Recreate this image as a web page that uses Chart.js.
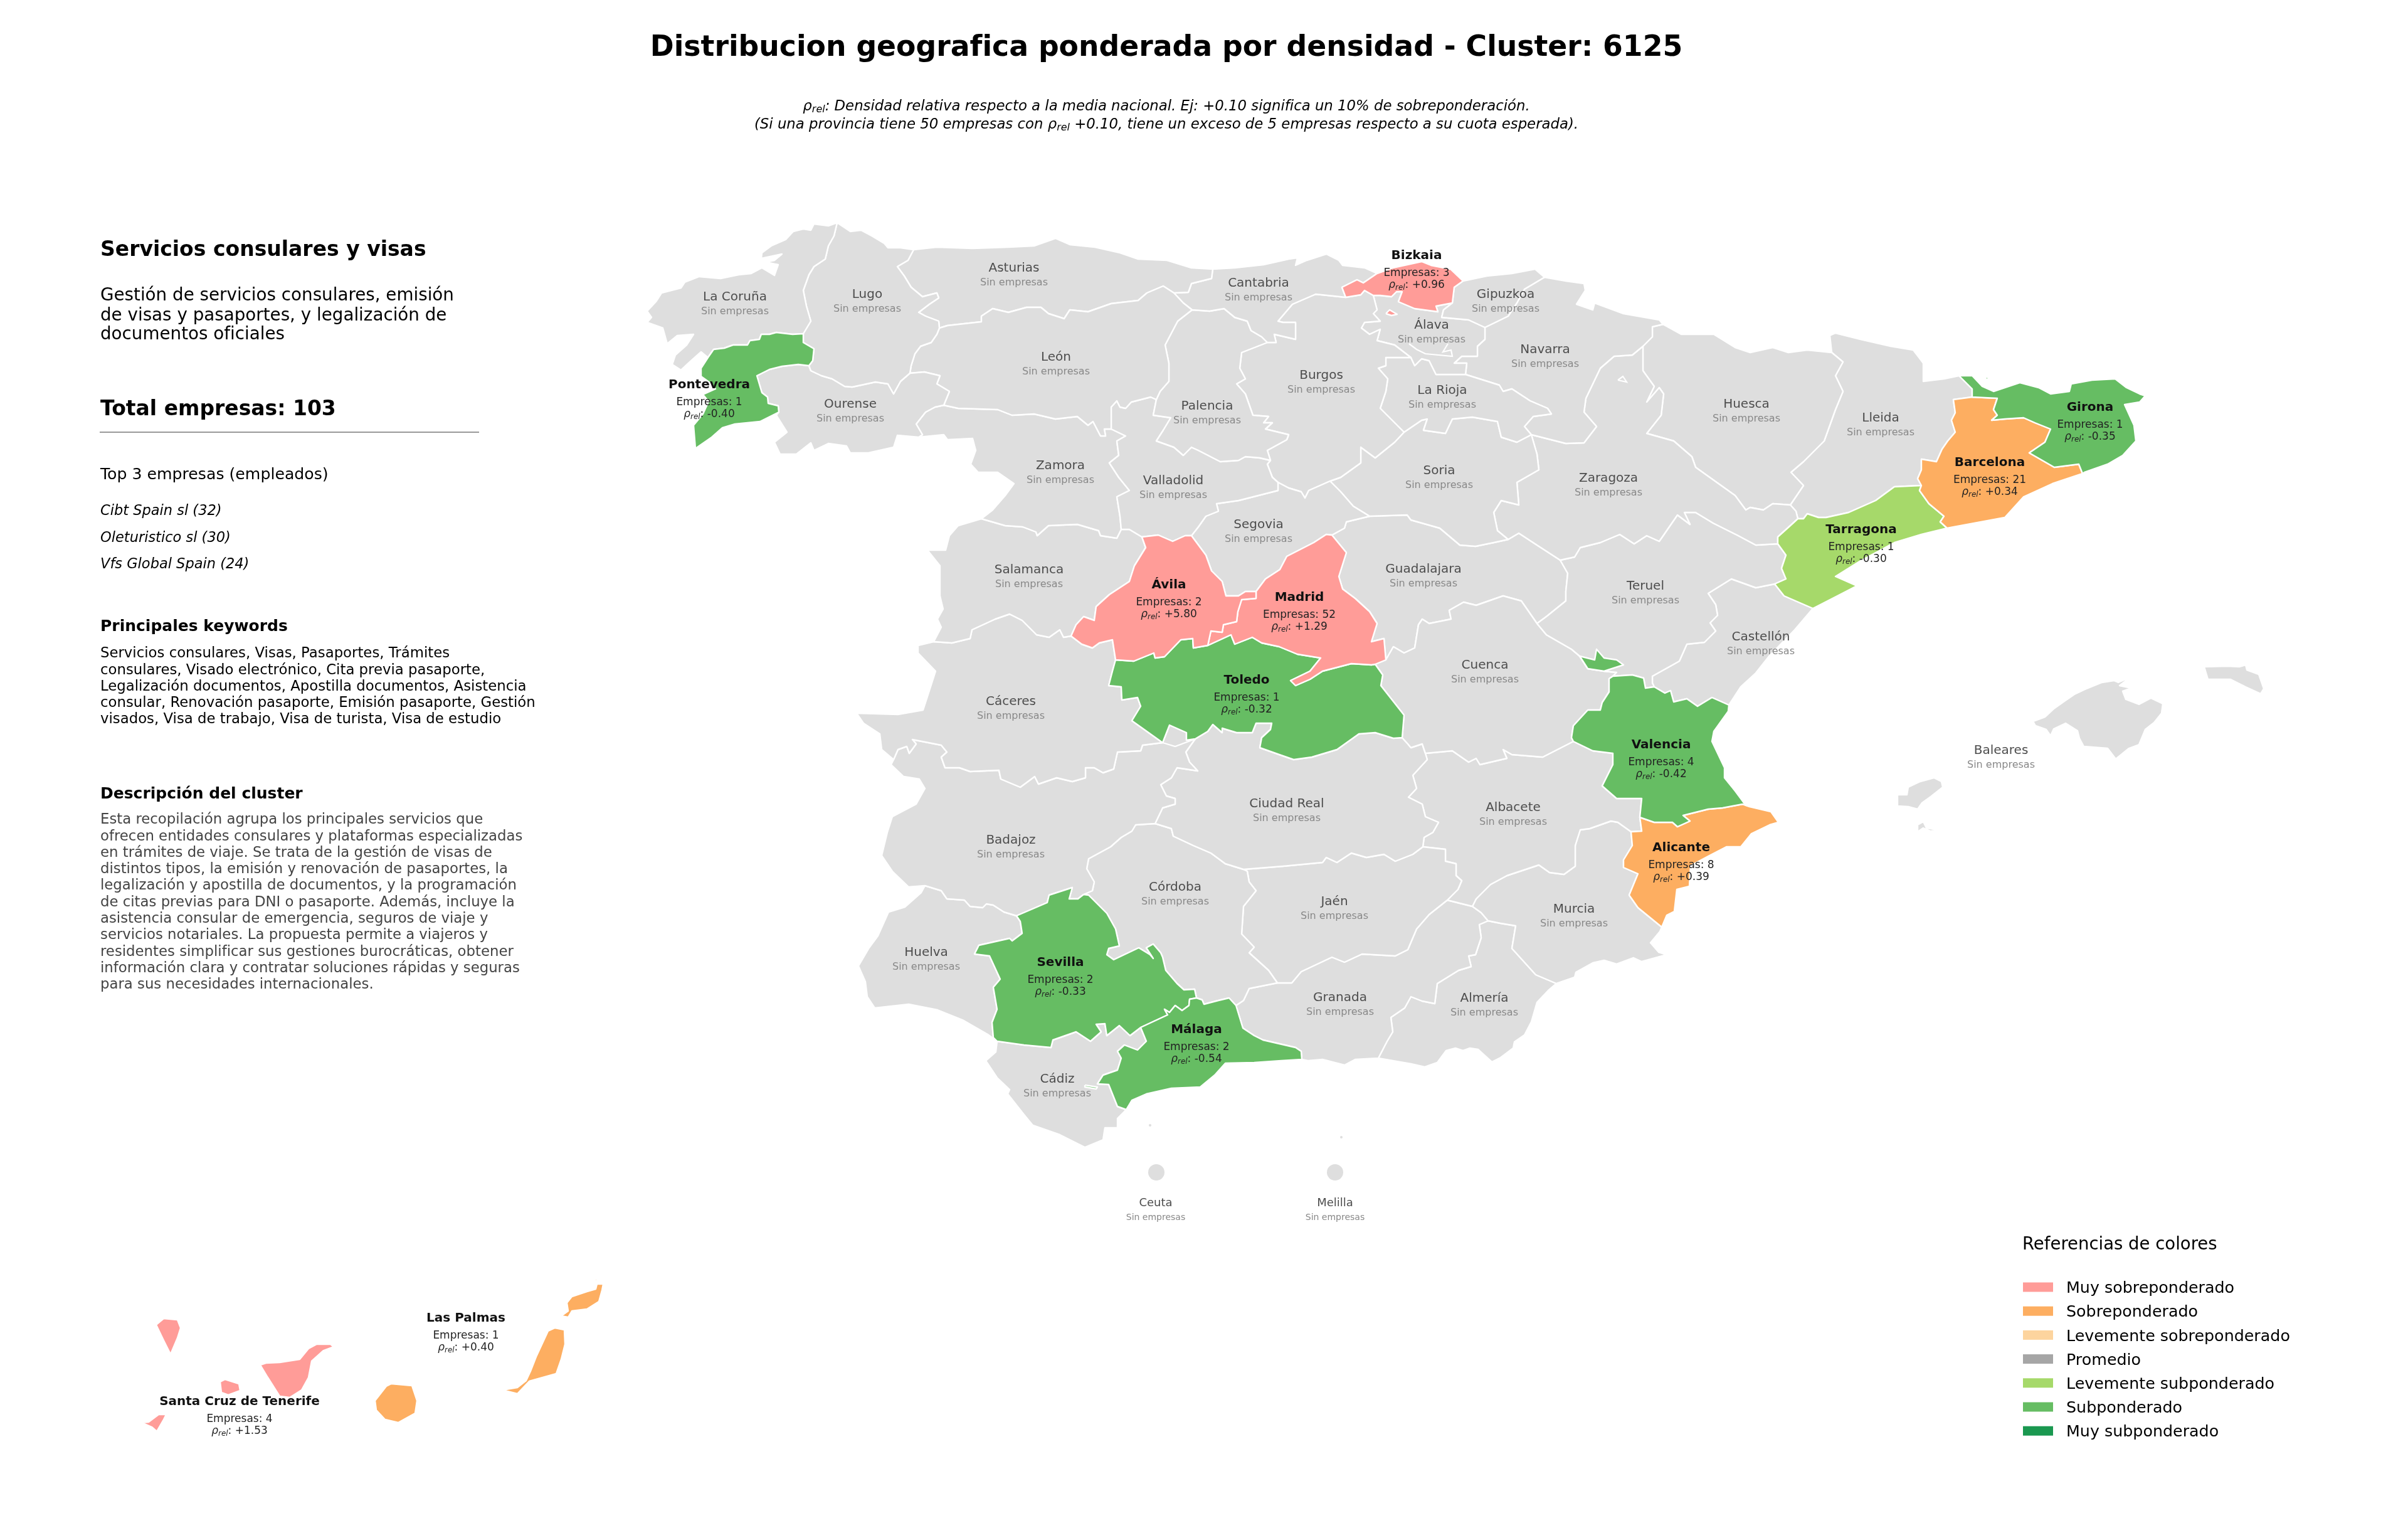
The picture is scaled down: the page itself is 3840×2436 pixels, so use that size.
<!DOCTYPE html>
<html lang="es">
<head>
<meta charset="utf-8">
<title>Distribucion geografica - Cluster 6125</title>
<script src="https://cdn.jsdelivr.net/npm/chart.js@4/dist/chart.umd.min.js"></script>
<style>
  html, body { margin: 0; padding: 0; background: #fff; }
  #wrap { width: 3840px; height: 2436px; position: relative; }
</style>
</head>
<body>
<div id="wrap"><canvas id="chart"></canvas></div>
<script>
// ==== Bordes entre provincias (unidades del mapa) ====
const corCoast = [[1335,355],[1321,360],[1298,357],[1293,367],[1281,365],[1265,369],[1253,382],[1230,392],[1215,403],[1214,412],[1247,405],[1235,415],[1221,418],[1241,422],[1235,439],[1215,427],[1198,436],[1178,438],[1149,444],[1115,441],[1092,450],[1086,459],[1055,467],[1046,481],[1032,496],[1039,506],[1032,514],[1057,523],[1064,548],[1080,535],[1106,533],[1095,550],[1077,566],[1072,581],[1086,590],[1100,577],[1118,561],[1129,570]];
const corPon = [[1129,570],[1138,557],[1155,555],[1169,550],[1192,550],[1196,543],[1211,541],[1214,533],[1227,533],[1238,530],[1264,533],[1281,532]];
const lugCor = [[1281,532],[1293,512],[1286,488],[1281,463],[1290,438],[1298,425],[1316,413],[1321,392],[1330,376],[1335,355]];
const lugCoast = [[1335,355],[1344,361],[1356,369],[1373,367],[1390,376],[1410,388],[1416,395],[1436,395],[1457,398]];
const lugAst = [[1457,398],[1448,415],[1431,425],[1442,440],[1453,458],[1471,473],[1494,467],[1497,475],[1482,485],[1465,498],[1476,504],[1497,512],[1498,523]];
const lugLeon = [[1498,523],[1494,533],[1485,546],[1468,552],[1459,564],[1453,583],[1451,595]];
const ourLug = [[1451,595],[1436,608],[1425,628],[1416,612],[1396,609],[1373,614],[1359,617],[1347,616],[1327,604],[1310,599],[1293,591],[1290,583]];
const lugPon = [[1290,583],[1296,575],[1298,556],[1281,546],[1281,532]];
const ourPon = [[1290,583],[1273,581],[1247,584],[1227,589],[1207,599],[1212,616],[1215,626],[1224,633],[1225,643],[1241,647],[1242,657]];
const ponCoast = [[1242,657],[1212,672],[1172,676],[1152,682],[1135,697],[1109,715],[1106,678],[1121,660],[1130,640],[1121,629],[1141,620],[1132,610],[1118,600],[1118,587],[1129,570]];
const ourPort = [[1242,657],[1238,662],[1255,689],[1235,705],[1244,724],[1270,724],[1293,706],[1298,718],[1321,707],[1350,711],[1356,722],[1385,722],[1425,713],[1431,694],[1465,697]];
const ourZam = [[1465,697],[1471,693],[1461,676],[1476,657],[1491,649],[1505,646]];
const ourLeon = [[1505,646],[1514,624],[1494,612],[1499,599],[1474,593],[1451,595]];
const leonAst = [[1498,523],[1511,519],[1565,513],[1565,504],[1583,492],[1608,498],[1637,490],[1660,490],[1672,500],[1697,508],[1706,494],[1735,497],[1772,484],[1815,479],[1829,467],[1855,456],[1872,467]];
const cantLeon = [[1872,467],[1887,483],[1901,494]];
const leonPal = [[1901,494],[1878,512],[1858,550],[1864,579],[1864,608],[1850,624],[1844,637]];
const leonVal = [[1844,637],[1835,633],[1804,641],[1795,651],[1786,649],[1781,639],[1772,649],[1772,684]];
const leonZam = [[1505,646],[1528,651],[1591,653],[1614,662],[1649,660],[1683,668],[1718,664],[1735,678],[1743,672],[1755,695],[1763,695],[1761,684],[1772,684]];
const astCoast = [[1457,398],[1494,394],[1551,396],[1608,394],[1649,392],[1683,380],[1706,390],[1746,394],[1786,403],[1815,413],[1861,415],[1900,427],[1934,429]];
const astCant = [[1872,467],[1895,466],[1900,452],[1932,444],[1934,429]];
const cantCoast = [[1934,429],[1969,427],[2015,422],[2055,413],[2069,411],[2066,423],[2084,415],[2115,405],[2135,415],[2141,423],[2176,427],[2196,436]];
const bizCant = [[2146,474],[2140,458],[2164,446],[2174,451],[2196,436]];
const cantBur = [[2021,546],[2035,546],[2032,533],[2066,541],[2066,514],[2046,514],[2038,512],[2061,485],[2098,469],[2146,474]];
const cantPal = [[1901,494],[1929,496],[1952,492],[1969,506],[1989,512],[1995,527],[2012,537],[2021,546]];
const palBur = [[2021,546],[1980,562],[1977,587],[1986,604],[1972,612],[1986,628],[1998,662],[2023,664],[2015,674],[2029,674],[2018,684],[2055,693],[2052,701],[2021,718],[2026,734]];
const palVal = [[1844,637],[1839,662],[1867,666],[1855,686],[1844,703],[1872,713],[1887,726],[1900,713],[1911,718],[1946,736],[1975,734],[1986,728],[2009,730],[2026,734]];
const valBur = [[2026,734],[2021,740],[2029,761],[2038,769]];
const valSeg = [[2038,769],[2038,782],[1975,798],[1940,803],[1943,815],[1923,823],[1911,840],[1900,854]];
const valAv = [[1900,854],[1890,854],[1870,863],[1847,853],[1821,856]];
const salVal = [[1788,844],[1801,844],[1821,856]];
const zamVal = [[1772,684],[1795,695],[1781,703],[1784,726],[1769,738],[1784,761],[1801,782],[1781,792],[1786,823],[1788,844]];
const zamPort = [[1465,697],[1505,693],[1511,701],[1551,699],[1556,718],[1548,740],[1560,753],[1591,753],[1617,771],[1603,790],[1583,813],[1565,827]];
const zamSal = [[1565,827],[1603,838],[1631,840],[1652,848],[1654,854],[1672,838],[1718,836],[1752,846],[1755,854],[1781,858],[1788,844]];
const salPort = [[1565,827],[1528,838],[1514,854],[1508,877],[1479,877],[1499,902],[1499,950],[1504,971],[1495,987],[1501,1000],[1489,1023]];
const salCac = [[1489,1023],[1518,1025],[1547,1018],[1550,1004],[1587,987],[1610,979],[1630,989],[1653,1012],[1673,1016],[1690,1004],[1696,1016],[1708,1014]];
const salAv = [[1708,1014],[1716,996],[1728,983],[1745,989],[1748,967],[1769,948],[1801,927],[1809,902],[1827,873],[1821,856]];
const avSeg = [[1900,854],[1923,885],[1932,910],[1949,927],[1955,950],[1975,950],[1986,943],[2003,943]];
const avMad = [[2003,943],[2003,954],[1980,956],[1974,975],[1972,991],[1951,996],[1949,1008],[1931,1006],[1926,1029]];
const avTol = [[1926,1029],[1903,1033],[1902,1018],[1883,1020],[1857,1047],[1842,1049],[1840,1041],[1808,1054],[1779,1052]];
const avCac = [[1779,1052],[1774,1020],[1753,1025],[1742,1033],[1725,1027],[1708,1014]];
const burSeg = [[2038,769],[2055,778],[2075,784],[2081,794],[2087,782],[2121,767]];
const segSor = [[2121,767],[2138,784],[2158,807],[2184,823]];
const segGua = [[2184,823],[2147,832],[2144,842],[2124,853]];
const segMad = [[2124,853],[2115,852],[2095,865],[2052,887],[2041,908],[2018,923],[2003,943]];
const burSor = [[2121,767],[2138,761],[2170,738],[2170,713],[2193,730],[2224,705],[2239,689]];
const burRio = [[2250,570],[2210,570],[2210,583],[2198,587],[2213,604],[2210,624],[2201,651],[2216,666],[2239,689]];
const burAla = [[2190,471],[2196,494],[2190,500],[2201,512],[2176,514],[2171,523],[2184,533],[2201,525],[2196,543],[2224,550],[2250,570]];
const bizBur = [[2190,471],[2176,463],[2170,470],[2146,474]];
const bizCoast = [[2196,436],[2221,427],[2267,417],[2282,423],[2313,429],[2333,448]];
const bizGip = [[2333,448],[2319,458],[2316,483]];
const bizAla = [[2316,483],[2290,488],[2293,497],[2256,492],[2230,481],[2236,465],[2227,465],[2219,473],[2201,471],[2190,471]];
const gipCoast = [[2333,448],[2371,440],[2411,436],[2448,429],[2463,442]];
const navGip = [[2368,522],[2405,504],[2419,483],[2431,461],[2463,442]];
const gipAla = [[2368,522],[2342,510],[2299,506],[2302,494],[2316,483]];
const navAla = [[2337,597],[2339,579],[2319,579],[2331,568],[2356,568],[2356,552],[2368,541],[2368,522]];
const rioAla = [[2337,597],[2290,597],[2279,575],[2267,572],[2256,583],[2250,570]];
const rioSor = [[2239,689],[2267,670],[2276,668],[2270,686],[2305,691],[2316,668],[2348,665],[2388,672],[2394,697],[2419,705],[2442,693]];
const rioNav = [[2442,693],[2431,680],[2445,664],[2474,660],[2468,651],[2440,639],[2411,620],[2397,624],[2391,614],[2337,597]];
const navZar = [[2442,693],[2497,707],[2526,706],[2546,680],[2526,657],[2529,635],[2552,587],[2574,568],[2603,566],[2620,552]];
const navHue = [[2652,517],[2635,521],[2635,537],[2620,552]];
const navNorth = [[2463,442],[2497,448],[2526,452],[2528,463],[2514,485],[2540,494],[2543,483],[2589,500],[2646,510],[2652,517]];
const sorZar = [[2442,693],[2451,724],[2454,749],[2419,769],[2422,805],[2394,798],[2382,817],[2388,846],[2405,860]];
const sorGua = [[2184,823],[2244,821],[2250,829],[2296,842],[2328,869],[2353,871],[2382,865],[2405,860]];
const zarGua = [[2405,860],[2422,850],[2451,869],[2488,893]];
const zarTer = [[2488,893],[2511,888],[2520,873],[2552,865],[2583,852],[2606,867],[2626,854],[2646,863],[2675,821],[2695,836],[2686,817],[2704,817],[2732,834],[2772,854],[2800,869],[2835,867]];
const zarTar = [[2867,827],[2855,838],[2835,856],[2835,867]];
const zarLle = [[2855,805],[2864,815],[2867,827]];
const zarHue = [[2620,552],[2620,591],[2638,616],[2626,641],[2646,618],[2653,628],[2649,662],[2626,691],[2669,703],[2698,728],[2704,745],[2767,790],[2784,813],[2791,809],[2812,813],[2827,803],[2855,805]];
const hueNorth = [[2652,517],[2681,533],[2733,533],[2767,554],[2791,562],[2827,554],[2852,562],[2882,558],[2921,562]];
const hueLle = [[2921,562],[2939,577],[2927,599],[2939,624],[2927,653],[2909,703],[2876,736],[2856,753],[2876,774],[2855,805]];
const lleNorth = [[2921,562],[2918,535],[2927,531],[2967,541],[3015,552],[3051,558],[3067,579],[3067,608],[3100,604],[3124,599]];
const lleGir = [[3124,599],[3145,620],[3145,633]];
const lleBar = [[3145,633],[3115,637],[3118,658],[3112,670],[3118,689],[3106,703],[3097,716],[3088,736],[3064,732],[3064,749],[3058,763],[3064,774]];
const lleTar = [[2867,827],[2876,827],[2882,819],[2900,825],[2912,825],[2948,817],[2991,798],[3021,776],[3064,774]];
const girOuter = [[3124,599],[3145,599],[3161,616],[3179,624],[3197,618],[3221,610],[3251,618],[3270,628],[3300,624],[3303,612],[3336,606],[3373,604],[3391,618],[3412,628],[3421,631],[3412,641],[3388,645],[3403,678],[3406,703],[3385,726],[3361,740],[3324,753],[3321,755]];
const barGir = [[3145,633],[3185,635],[3179,653],[3185,662],[3176,670],[3197,668],[3227,666],[3245,674],[3270,684],[3261,705],[3236,722],[3276,745],[3315,740],[3321,755]];
const barCoast = [[3321,755],[3273,771],[3227,792],[3197,825],[3105,842]];
const barTar = [[3064,774],[3061,782],[3076,803],[3100,823],[3094,832],[3105,842]];
const tarCoast = [[3105,842],[3064,852],[3021,865],[2967,894],[2927,919],[2961,934],[2930,950],[2891,970]];
const tarCas = [[2830,931],[2845,950],[2891,970]];
const tarTer = [[2835,867],[2848,885],[2841,906],[2848,923],[2830,931]];
const terCas = [[2830,931],[2800,937],[2761,923],[2724,946],[2736,964],[2739,981],[2727,993],[2736,1006],[2718,1024],[2690,1027],[2678,1054],[2635,1078],[2635,1089],[2638,1095]];
const terVal = [[2638,1095],[2624,1097],[2621,1081],[2603,1076],[2572,1078]];
const terCue = [[2451,994],[2466,1012],[2506,1035],[2519,1046],[2532,1066],[2558,1070],[2578,1072],[2572,1078]];
const guaTer = [[2451,994],[2466,983],[2497,958],[2497,943],[2500,914],[2488,893]];
const casCoast = [[2891,970],[2862,1004],[2822,1045],[2799,1074],[2776,1095],[2757,1124]];
const valCas = [[2638,1095],[2655,1105],[2664,1101],[2669,1119],[2690,1114],[2707,1126],[2730,1112],[2757,1124]];
const valCoast = [[2757,1124],[2756,1134],[2733,1166],[2730,1182],[2750,1224],[2750,1240],[2767,1261],[2784,1284]];
const valAli = [[2784,1284],[2779,1282],[2747,1288],[2724,1290],[2684,1300],[2695,1309],[2675,1318],[2667,1311],[2638,1311],[2615,1303]];
const valAlb = [[2615,1303],[2618,1273],[2578,1273],[2555,1253],[2572,1219],[2572,1201],[2540,1197],[2509,1182]];
const valCue = [[2509,1182],[2506,1176],[2509,1157],[2532,1132],[2552,1132],[2555,1120],[2566,1103],[2566,1082],[2572,1078]];
const aliCoast = [[2784,1284],[2790,1286],[2824,1294],[2836,1311],[2822,1315],[2793,1329],[2776,1350],[2753,1350],[2724,1365],[2696,1380],[2694,1413],[2674,1418],[2670,1453],[2658,1459],[2650,1478]];
const murAli = [[2601,1326],[2603,1348],[2589,1371],[2589,1383],[2612,1393],[2598,1427],[2612,1447],[2650,1478]];
const albAli = [[2601,1326],[2618,1325],[2615,1303]];
const albCue = [[2509,1182],[2460,1207],[2411,1203],[2397,1195],[2403,1209],[2360,1219],[2354,1209],[2342,1215],[2316,1197],[2273,1201]];
const cueCR = [[2236,1176],[2245,1186],[2250,1192],[2268,1186],[2273,1201]];
const cueTol = [[2193,1059],[2205,1076],[2202,1093],[2239,1140],[2236,1176]];
const madCue = [[2210,1052],[2193,1059]];
const guaCue = [[2210,1052],[2222,1031],[2239,1041],[2256,1033],[2262,996],[2268,987],[2279,994],[2314,987],[2311,973],[2334,960],[2354,965],[2397,950],[2426,958],[2451,994]];
const madGua = [[2124,853],[2147,881],[2135,919],[2141,939],[2153,948],[2161,954],[2184,975],[2196,994],[2187,1023],[2207,1018],[2210,1052]];
const madTol = [[1926,1029],[1963,1012],[1969,1027],[1997,1016],[2012,1025],[2040,1031],[2069,1043],[2106,1049],[2089,1070],[2058,1085],[2066,1093],[2089,1083],[2109,1070],[2155,1058],[2187,1060],[2193,1059]];
const tolCR = [[2236,1176],[2222,1177],[2193,1168],[2167,1170],[2132,1195],[2092,1207],[2063,1211],[2040,1203],[2009,1192],[2012,1176],[2026,1163],[2028,1153],[2003,1153],[1997,1168],[1972,1168],[1949,1161],[1949,1168],[1934,1155],[1926,1166],[1906,1178]];
const badTol = [[1854,1184],[1865,1156],[1892,1168],[1892,1180],[1906,1178]];
const cacTol = [[1779,1052],[1774,1070],[1768,1093],[1788,1095],[1789,1116],[1814,1112],[1819,1126],[1805,1149],[1854,1184]];
const cacBad = [[1854,1184],[1822,1188],[1819,1197],[1782,1199],[1776,1226],[1759,1232],[1745,1224],[1731,1224],[1731,1240],[1710,1246],[1685,1240],[1656,1250],[1650,1238],[1627,1255],[1596,1242],[1593,1228],[1547,1230],[1530,1224],[1507,1224],[1501,1207],[1510,1199],[1501,1188],[1455,1179],[1461,1186],[1450,1201],[1446,1190],[1432,1195],[1425,1211]];
const cacPort = [[1489,1023],[1464,1029],[1464,1041],[1492,1070],[1484,1095],[1472,1132],[1432,1139],[1366,1137],[1377,1153],[1403,1170],[1406,1195],[1425,1211]];
const badCR = [[1906,1178],[1891,1199],[1897,1215],[1910,1229],[1877,1224],[1868,1240],[1851,1251],[1860,1269],[1874,1273],[1874,1282],[1854,1288],[1842,1313]];
const badCor = [[1842,1313],[1811,1315],[1805,1325],[1788,1335],[1771,1350],[1736,1369],[1733,1385],[1745,1406],[1742,1420],[1728,1426]];
const badSev = [[1621,1460],[1670,1439],[1673,1427],[1710,1415],[1705,1433],[1719,1433],[1728,1426]];
const badHue = [[1475,1412],[1501,1420],[1510,1433],[1538,1435],[1547,1445],[1567,1447],[1573,1441],[1584,1443],[1601,1454],[1621,1460]];
const badPort = [[1425,1211],[1421,1219],[1441,1238],[1466,1242],[1475,1257],[1461,1282],[1423,1302],[1415,1327],[1406,1364],[1423,1389],[1449,1414],[1475,1412]];
const crAlb = [[2273,1201],[2276,1211],[2253,1236],[2259,1257],[2246,1271],[2268,1282],[2273,1302],[2294,1311],[2285,1327],[2271,1335],[2269,1350]];
const crJae = [[1983,1386],[2046,1381],[2109,1375],[2115,1367],[2132,1375],[2155,1360],[2179,1367],[2207,1362],[2225,1373],[2253,1362],[2269,1350]];
const corCR = [[1842,1313],[1868,1321],[1871,1333],[1903,1348],[1931,1360],[1954,1377],[1983,1386]];
const corJae = [[1983,1386],[1989,1389],[1992,1406],[2003,1420],[1983,1445],[1980,1489],[2000,1510],[1992,1519],[2023,1547],[2037,1567]];
const corGra = [[1971,1603],[1983,1595],[1992,1576],[2037,1567]];
const corMal = [[1971,1603],[1960,1591],[1943,1595],[1920,1601],[1917,1594],[1908,1591]];
const sevCor = [[1728,1426],[1736,1427],[1765,1456],[1779,1481],[1785,1508],[1768,1512],[1765,1522],[1776,1530],[1816,1511],[1834,1522],[1839,1528],[1828,1511],[1839,1505],[1851,1519],[1854,1526],[1859,1547],[1877,1568],[1888,1578],[1905,1577],[1908,1591]];
const jaeGra = [[2037,1567],[2060,1567],[2075,1549],[2124,1526],[2144,1534],[2172,1521],[2225,1524],[2245,1514],[2259,1481],[2279,1458],[2308,1435]];
const albJae = [[2269,1350],[2305,1354],[2305,1373],[2322,1377],[2322,1396],[2331,1404],[2325,1418],[2308,1435]];
const albGra = [[2308,1435],[2348,1445]];
const albMur = [[2348,1445],[2354,1433],[2377,1410],[2403,1396],[2454,1379],[2471,1391],[2494,1394],[2512,1381],[2512,1348],[2520,1323],[2535,1321],[2569,1309],[2580,1311],[2601,1326]];
const murCoast = [[2650,1478],[2647,1485],[2632,1503],[2645,1518],[2658,1522],[2618,1533],[2605,1527],[2578,1537],[2558,1531],[2540,1535],[2513,1550],[2511,1558],[2482,1568]];
const murAlm = [[2482,1568],[2449,1554],[2411,1512],[2417,1476],[2393,1472],[2373,1468]];
const murGra = [[2373,1468],[2362,1455],[2348,1445]];
const graAlm = [[2373,1468],[2359,1474],[2362,1495],[2353,1522],[2342,1524],[2346,1541],[2326,1547],[2292,1568],[2288,1600],[2268,1596],[2250,1589],[2240,1607],[2218,1622],[2221,1645],[2212,1660],[2198,1687]];
const graCoast = [[2076,1689],[2086,1691],[2109,1689],[2144,1698],[2161,1689],[2198,1687]];
const malGra = [[2076,1689],[2075,1676],[2066,1670],[2014,1658],[2000,1651],[1982,1639],[1971,1603]];
const almCoast = [[2482,1568],[2469,1579],[2451,1598],[2442,1629],[2431,1650],[2415,1661],[2413,1671],[2393,1686],[2379,1693],[2357,1673],[2344,1671],[2333,1675],[2321,1671],[2306,1675],[2292,1694],[2272,1701],[2250,1696],[2198,1687]];
const malSev = [[1908,1591],[1897,1593],[1896,1603],[1885,1611],[1874,1603],[1865,1614],[1857,1609],[1862,1618],[1819,1638]];
const malCad = [[1819,1638],[1828,1660],[1814,1674],[1793,1666],[1782,1676],[1788,1687],[1782,1706],[1759,1714],[1750,1728],[1768,1729],[1782,1764],[1796,1769]];
const malCoast = [[1796,1769],[1805,1754],[1828,1744],[1868,1735],[1914,1733],[1937,1714],[1954,1695],[2000,1694],[2043,1691],[2076,1689]];
const sevCad = [[1819,1638],[1802,1651],[1785,1635],[1765,1651],[1762,1632],[1748,1633],[1756,1645],[1739,1660],[1716,1645],[1679,1658],[1676,1670],[1633,1666],[1590,1660]];
const sevHue = [[1590,1660],[1584,1654],[1582,1630],[1590,1609],[1584,1574],[1595,1561],[1578,1524],[1554,1521],[1561,1507],[1610,1496],[1614,1500],[1630,1488],[1627,1469],[1621,1460]];
const hueCoast = [[1590,1660],[1575,1649],[1535,1626],[1495,1610],[1449,1601],[1395,1607],[1383,1589],[1380,1565],[1369,1540],[1386,1511],[1400,1492],[1417,1454],[1443,1446],[1469,1423],[1475,1412]];
const cadCoast = [[1590,1660],[1588,1677],[1572,1691],[1590,1718],[1610,1737],[1607,1744],[1633,1777],[1647,1794],[1690,1809],[1730,1829],[1759,1817],[1762,1798],[1782,1798],[1782,1783],[1796,1769]];

// ==== Partes sueltas e islas ====
const mallorca = [[3242,1150],[3261,1143],[3275,1130],[3292,1118],[3308,1107],[3325,1099],[3352,1088],[3371,1085],[3378,1088],[3397,1080],[3380,1093],[3399,1097],[3385,1102],[3390,1115],[3411,1123],[3430,1113],[3449,1122],[3447,1137],[3435,1152],[3421,1163],[3411,1187],[3395,1193],[3374,1210],[3361,1193],[3323,1190],[3316,1177],[3313,1165],[3294,1153],[3275,1162],[3270,1173],[3263,1163],[3246,1157]];
const menorca = [[3515,1063],[3552,1062],[3571,1063],[3581,1060],[3583,1068],[3602,1075],[3610,1098],[3605,1106],[3581,1095],[3557,1083],[3521,1083]];
const ibiza = [[3026,1267],[3041,1267],[3043,1255],[3062,1246],[3084,1240],[3096,1246],[3098,1255],[3079,1270],[3065,1280],[3058,1290],[3043,1286],[3026,1285]];
const formentera = [[3058,1315],[3067,1310],[3072,1320],[3091,1323],[3079,1325],[3067,1320],[3058,1326]];
const laPalma = [[249,2112],[261,2102],[283,2104],[288,2117],[283,2133],[272,2159],[261,2137]];
const gomera = [[351,2203],[359,2199],[381,2206],[383,2217],[364,2224],[353,2220]];
const tenerife = [[415,2176],[424,2173],[446,2172],[478,2167],[492,2150],[505,2143],[527,2143],[532,2147],[516,2153],[497,2170],[492,2196],[481,2216],[462,2228],[446,2226],[427,2196]];
const hierro = [[226,2268],[237,2267],[253,2255],[265,2255],[261,2263],[250,2282],[242,2275]];
const granCanaria = [[598,2233],[616,2210],[624,2206],[657,2209],[665,2233],[662,2253],[635,2268],[614,2263],[600,2248]];
const fuerteventura = [[801,2216],[825,2212],[839,2201],[846,2186],[855,2163],[874,2122],[885,2117],[900,2120],[901,2143],[895,2167],[887,2190],[844,2202],[825,2222]];
const lanzarote = [[895,2098],[906,2090],[904,2077],[912,2067],[936,2059],[950,2055],[952,2047],[962,2047],[960,2057],[955,2075],[936,2087],[912,2090],[906,2100]];
const graciosa = [[949,2042],[950,2036],[953,2042]];
const ademuz = [[2519,1046],[2543,1052],[2546,1035],[2558,1049],[2578,1052],[2589,1060],[2558,1070],[2532,1066],[2523,1052]];
const orduna = [[2210,500],[2216,494],[2228,501],[2219,503]];
const llivia = [[3168,599],[3171,604],[3166,605]];
const caboMalaga = [[1730,1730],[1750,1733],[1748,1736],[1730,1733]];
const trevino = [[2247,548],[2259,557],[2273,564],[2316,568],[2314,558],[2301,561],[2309,548]];
const bolsaBadajoz = [[1854,1184],[1874,1190],[1906,1178]];
const enclaveZaragoza = [[2580,606],[2588,600],[2594,609],[2580,606]];
const ciudades = [{x:1844,y:1869},{x:2129,y:1869}];
const islotes = [{x:1834,y:1794},{x:2139,y:1813}];

// ==== Composicion de provincias ====
const rev = arc => arc.slice().reverse();
const ring = (...arcs) => arcs.flat();

const provinceNames = ['La Coruña','Lugo','Pontevedra','Ourense','León','Asturias','Cantabria','Palencia','Valladolid','Zamora','Salamanca','Ávila','Segovia','Burgos','Bizkaia','Gipuzkoa','Álava','La Rioja','Navarra','Soria','Zaragoza','Huesca','Lleida','Girona','Barcelona','Tarragona','Teruel','Castellón','Valencia','Alicante','Cuenca','Guadalajara','Madrid','Toledo','Cáceres','Badajoz','Ciudad Real','Córdoba','Jaén','Albacete','Murcia','Granada','Almería','Málaga','Sevilla','Huelva','Cádiz'];
const provinceRings = [
  ring(corCoast,corPon,lugCor),
  ring(lugCoast,lugAst,lugLeon,ourLug,lugPon,lugCor),
  ring(ourPon,ponCoast,corPon,rev(lugPon)),
  ring(ourPort,ourZam,ourLeon,ourLug,ourPon),
  ring(leonAst,cantLeon,leonPal,leonVal,rev(leonZam),ourLeon,rev(lugLeon)),
  ring(astCoast,rev(astCant),rev(leonAst),rev(lugAst)),
  ring(cantCoast,rev(bizCant),rev(cantBur),rev(cantPal),rev(cantLeon),astCant),
  ring(cantPal,palBur,rev(palVal),rev(leonPal)),
  ring(leonVal,zamVal,salVal,rev(valAv),rev(valSeg),rev(valBur),rev(palVal)),
  ring(zamPort,zamSal,rev(zamVal),rev(leonZam),rev(ourZam)),
  ring(salPort,salCac,salAv,rev(salVal),rev(zamSal)),
  ring(salAv,rev(valAv),avSeg,avMad,avTol,avCac),
  ring(burSeg,segSor,segGua,segMad,rev(avSeg),rev(valSeg)),
  ring(cantBur,rev(bizBur),burAla,burRio,rev(burSor),rev(burSeg),rev(valBur),rev(palBur)),
  ring(bizCoast,bizGip,bizAla,bizBur,bizCant),
  ring(gipCoast,rev(navGip),gipAla,rev(bizGip)),
  ring(bizAla,burAla,rev(rioAla),navAla,gipAla),
  ring(rioSor,rioNav,rioAla,burRio),
  ring(navGip,navNorth,navHue,rev(navZar),rioNav,navAla),
  ring(burSor,rioSor,sorZar,rev(sorGua),rev(segSor)),
  ring(navZar,zarHue,zarLle,zarTar,rev(zarTer),rev(zarGua),rev(sorZar)),
  ring(hueNorth,hueLle,rev(zarHue),rev(navHue)),
  ring(lleNorth,lleGir,lleBar,rev(lleTar),rev(zarLle),rev(hueLle)),
  ring(girOuter,rev(barGir),rev(lleGir)),
  ring(barGir,barCoast,rev(barTar),rev(lleBar)),
  ring(lleTar,barTar,tarCoast,rev(tarCas),rev(tarTer),rev(zarTar)),
  ring(zarTer,tarTer,terCas,terVal,rev(terCue),guaTer),
  ring(tarCas,casCoast,rev(valCas),rev(terCas)),
  ring(valCas,valCoast,valAli,valAlb,valCue,rev(terVal)),
  ring(aliCoast,rev(murAli),albAli,rev(valAli)),
  ring(guaCue,terCue,rev(valCue),albCue,rev(cueCR),rev(cueTol),rev(madCue)),
  ring(sorGua,zarGua,rev(guaTer),rev(guaCue),rev(madGua),rev(segGua)),
  ring(madGua,madCue,rev(madTol),rev(avMad),rev(segMad)),
  ring(madTol,cueTol,tolCR,rev(badTol),rev(cacTol),rev(avTol)),
  ring(salCac,rev(avCac),cacTol,cacBad,rev(cacPort)),
  ring(badPort,badHue,badSev,rev(badCor),rev(badCR),rev(badTol),cacBad),
  ring(cueCR,crAlb,rev(crJae),rev(corCR),rev(badCR),rev(tolCR)),
  ring(corCR,corJae,rev(corGra),corMal,rev(sevCor),rev(badCor)),
  ring(crJae,albJae,rev(jaeGra),rev(corJae)),
  ring(albCue,crAlb,albJae,albGra,albMur,albAli,valAlb),
  ring(albMur,murAli,murCoast,murAlm,murGra),
  ring(jaeGra,albGra,rev(murGra),graAlm,rev(graCoast),malGra,corGra),
  ring(almCoast,rev(graAlm),rev(murAlm)),
  ring(malCoast,malGra,corMal,malSev,malCad),
  ring(sevCor,malSev,sevCad,sevHue,badSev),
  ring(hueCoast,badHue,rev(sevHue)),
  ring(cadCoast,rev(malCad),sevCad)
];

// ==== Categorias ====
const legendLabels = ['Muy sobreponderado','Sobreponderado','Levemente sobreponderado','Promedio','Levemente subponderado','Subponderado','Muy subponderado'];
const legendColors = ['#ff9c98','#fdae61','#fdd49e','#a6a6a6','#a6d96a','#66bd63','#1a9850'];
const sinEmpresas = '#dedede';
const muySobre = ['Ávila','Madrid','Bizkaia'];
const sobre = ['Barcelona','Alicante'];
const leveSub = ['Tarragona'];
const sub = ['Pontevedra','Girona','Toledo','Valencia','Sevilla','Málaga'];

function colorOf(name){
  if(muySobre.includes(name)) return legendColors[0];
  if(sobre.includes(name)) return legendColors[1];
  if(leveSub.includes(name)) return legendColors[4];
  if(sub.includes(name)) return legendColors[5];
  return sinEmpresas;
}

// ==== Textos ====
const activeNames = ['Pontevedra','Bizkaia','Girona','Barcelona','Tarragona','Ávila','Madrid','Toledo','Valencia','Alicante','Sevilla','Málaga','Santa Cruz de Tenerife','Las Palmas'];
const activeEmpresas = [1,3,1,21,1,2,52,1,4,8,2,2,4,1];
const activeRho = ['-0.40','+0.96','-0.35','+0.34','-0.30','+5.80','+1.29','-0.32','-0.42','+0.39','-0.33','-0.54','+1.53','+0.40'];
const activePos = [[1131,612],[2259,406],[3333,648],[3173,736],[2968,843],[1864,931],[2072,951],[1988,1083],[2649,1186],[2681,1350],[1691,1533],[1908,1640],[382,2233],[743,2100]];
const emptyNames = ['La Coruña','Lugo','Asturias','León','Ourense','Zamora','Salamanca','Valladolid','Palencia','Burgos','Cantabria','Gipuzkoa','Álava','Navarra','La Rioja','Soria','Zaragoza','Segovia','Guadalajara','Teruel','Huesca','Lleida','Castellón','Cuenca','Cáceres','Badajoz','Ciudad Real','Córdoba','Jaén','Huelva','Granada','Cádiz','Albacete','Murcia','Almería','Baleares','Ceuta','Melilla'];
const emptyPos = [[1172,472],[1383,468],[1617,426],[1684,568],[1356,643],[1691,741],[1641,907],[1871,765],[1925,646],[2107,597],[2007,450],[2401,468],[2283,517],[2464,556],[2300,621],[2295,749],[2565,761],[2007,835],[2270,906],[2624,933],[2785,643],[2999,665],[2808,1014],[2368,1059],[1612,1117],[1612,1338],[2052,1280],[1874,1413],[2128,1436],[1477,1517],[2137,1589],[1686,1719],[2413,1286],[2510,1448],[2367,1590],[3191,1195],[1843,1917],[2129,1917]];
const smallLabels = ['Ceuta','Melilla'];

const FONT = '"DejaVu Sans"';
const summaryLines = ['Gestión de servicios consulares, emisión','de visas y pasaportes, y legalización de','documentos oficiales'];
const topCompanies = ['Cibt Spain sl (32)','Oleturistico sl (30)','Vfs Global Spain (24)'];
const keywordLines = ['Servicios consulares, Visas, Pasaportes, Trámites','consulares, Visado electrónico, Cita previa pasaporte,','Legalización documentos, Apostilla documentos, Asistencia','consular, Renovación pasaporte, Emisión pasaporte, Gestión','visados, Visa de trabajo, Visa de turista, Visa de estudio'];
const descriptionLines = ['Esta recopilación agrupa los principales servicios que','ofrecen entidades consulares y plataformas especializadas','en trámites de viaje. Se trata de la gestión de visas de','distintos tipos, la emisión y renovación de pasaportes, la','legalización y apostilla de documentos, y la programación','de citas previas para DNI o pasaporte. Además, incluye la','asistencia consular de emergencia, seguros de viaje y','servicios notariales. La propuesta permite a viajeros y','residentes simplificar sus gestiones burocráticas, obtener','información clara y contratar soluciones rápidas y seguras','para sus necesidades internacionales.'];

// ==== Datasets ====
const toPoints = pts => pts.map(p => ({x:p[0], y:p[1]}));

function polygon(label, pts, color, order){
  return {
    label, data: toPoints(pts.concat([pts[0]])),
    showLine: true, fill: 'shape', backgroundColor: color,
    borderColor: '#fff', borderWidth: 2.4, borderJoinStyle: 'round',
    pointRadius: 0, order
  };
}
function whiteLine(label, pts){
  return { label, data: toPoints(pts), showLine:true, fill:false, borderColor:'#fff', borderWidth:2.2, pointRadius:0, order:0 };
}

const datasets = [];
provinceNames.forEach((name,i) => {
  const color = colorOf(name);
  datasets.push(polygon(name, provinceRings[i], color, color === sinEmpresas ? 3 : 1));
});
[mallorca,menorca,ibiza,formentera].forEach(p => datasets.push(polygon('Baleares', p, sinEmpresas, 3)));
[laPalma,gomera,tenerife,hierro].forEach(p => datasets.push(polygon('Santa Cruz de Tenerife', p, legendColors[0], 1)));
[granCanaria,fuerteventura,lanzarote,graciosa].forEach(p => datasets.push(polygon('Las Palmas', p, legendColors[1], 1)));
datasets.push(polygon('Valencia', ademuz, legendColors[5], 0));
datasets.push(polygon('Bizkaia', orduna, legendColors[0], 0));
datasets.push(polygon('Girona', llivia, legendColors[5], 0));
datasets.push(polygon('Málaga', caboMalaga, legendColors[5], 0));
datasets.push(whiteLine('Trevino', trevino));
datasets.push(whiteLine('Badajoz', bolsaBadajoz));
datasets.push(whiteLine('Zaragoza', enclaveZaragoza));
datasets.push({ label:'Ceuta y Melilla', data:ciudades, showLine:false, pointRadius:13, pointBackgroundColor:sinEmpresas, pointBorderWidth:0, order:3 });
datasets.push({ label:'Islotes', data:islotes, showLine:false, pointRadius:2, pointBackgroundColor:sinEmpresas, pointBorderWidth:0, order:3 });

// ==== Dibujo de textos ====
// el "middle" del canvas queda algo alto, se baja un 10% del cuerpo
function put(ctx, text, x, y, size, style, color, align){
  ctx.font = `${style} ${size}px ${FONT}`;
  ctx.fillStyle = color;
  ctx.textAlign = align || 'left';
  ctx.textBaseline = 'middle';
  ctx.fillText(text, x, y + size*0.1);
}

// tramos seguidos centrados en cx, para el subindice de rho
function putRuns(ctx, runs, cx, y, size, color){
  ctx.textAlign = 'left';
  ctx.textBaseline = 'middle';
  ctx.fillStyle = color;
  let total = 0;
  runs.forEach(r => { ctx.font = r.font; total += ctx.measureText(r.text).width; });
  let x = cx - total/2;
  runs.forEach(r => {
    ctx.font = r.font;
    ctx.fillText(r.text, x, y + size*0.1 + (r.dy || 0));
    x += ctx.measureText(r.text).width;
  });
}

function rhoRuns(size, tail, tailFont){
  return [
    {text:'ρ', font:`italic ${size}px ${FONT}`},
    {text:'rel', font:`italic ${size*0.7}px ${FONT}`, dy:size*0.22},
    {text:tail, font:tailFont}
  ];
}

const textPlugin = {
  id: 'textos',
  afterDraw(chart){
    const ctx = chart.ctx;
    const sx = chart.scales.x, sy = chart.scales.y;
    const px = v => sx.getPixelForValue(v), py = v => sy.getPixelForValue(v);
    ctx.save();

    // titulo
    put(ctx, 'Distribucion geografica ponderada por densidad - Cluster: 6125', px(1860), py(73), 45.7, 'bold', '#000', 'center');
    const subFont = `italic 22.8px ${FONT}`;
    putRuns(ctx, rhoRuns(22.8, ': Densidad relativa respecto a la media nacional. Ej: +0.10 significa un 10% de sobreponderación.', subFont), px(1860), py(168), 22.8, '#000');
    putRuns(ctx, [
      {text:'(Si una provincia tiene 50 empresas con ', font:subFont},
      ...rhoRuns(22.8, ' +0.10, tiene un exceso de 5 empresas respecto a su cuota esperada).', subFont)
    ], px(1860), py(197), 22.8, '#000');

    // panel izquierdo
    const left = px(160);
    put(ctx, 'Servicios consulares y visas', left, py(396), 33, 'bold', '#000');
    summaryLines.forEach((t,i) => put(ctx, t, left, py([469,501,531][i]), 27.75, 'normal', '#000'));
    put(ctx, 'Total empresas: 103', left, py(650), 33, 'bold', '#000');
    ctx.strokeStyle = '#999';
    ctx.lineWidth = 2;
    ctx.beginPath(); ctx.moveTo(px(159), py(689)); ctx.lineTo(px(764), py(689)); ctx.stroke();
    put(ctx, 'Top 3 empresas (empleados)', left, py(755), 25.2, 'normal', '#000');
    topCompanies.forEach((t,i) => put(ctx, t, left, py([813,856,898][i]), 22.5, 'italic', '#000'));
    put(ctx, 'Principales keywords', left, py(997), 25, 'bold', '#000');
    keywordLines.forEach((t,i) => put(ctx, t, left, py(1040 + i*26.3), 22.8, 'normal', '#000'));
    put(ctx, 'Descripción del cluster', left, py(1264), 25, 'bold', '#000');
    descriptionLines.forEach((t,i) => put(ctx, t, left, py(1305 + i*26.3), 22.8, 'normal', '#444'));

    // provincias sin empresas
    emptyNames.forEach((name,i) => {
      const [x,y] = emptyPos[i];
      const small = smallLabels.includes(name);
      put(ctx, name, px(x), py(y), small ? 18 : 20, 'normal', '#4d4d4d', 'center');
      put(ctx, 'Sin empresas', px(x), py(y+23), small ? 14 : 16, 'normal', '#888', 'center');
    });

    // provincias con empresas
    activeNames.forEach((name,i) => {
      const [x,y] = activePos[i];
      put(ctx, name, px(x), py(y), 20, 'bold', '#111', 'center');
      put(ctx, 'Empresas: ' + activeEmpresas[i], px(x), py(y+28), 17, 'normal', '#222', 'center');
      putRuns(ctx, rhoRuns(17, ': ' + activeRho[i], `17px ${FONT}`), px(x), py(y+47), 17, '#222');
    });

    // referencias
    put(ctx, 'Referencias de colores', px(3225), py(1982), 27.5, 'normal', '#000');
    legendLabels.forEach((t,i) => {
      const yc = 2052 + i*38.2;
      ctx.fillStyle = legendColors[i];
      ctx.fillRect(px(3226), py(yc-7.5), 48, 15);
      put(ctx, t, px(3295), py(yc), 25.35, 'normal', '#000');
    });
    ctx.restore();
  }
};

// ==== Chart.js ====
const ctx = document.getElementById('chart').getContext('2d');
const chart = new Chart(ctx, {
  type: 'scatter',
  data: { datasets },
  options: {
    responsive: true,
    maintainAspectRatio: false,
    animation: false,
    layout: { padding: 0, autoPadding: false },
    plugins: { legend:{display:false}, title:{display:false}, tooltip:{enabled:false} },
    scales: {
      x: { type:'linear', min:0, max:3840, display:false },
      y: { type:'linear', min:0, max:2436, reverse:true, display:false }
    }
  },
  plugins: [textPlugin]
});
</script>
</body>
</html>
